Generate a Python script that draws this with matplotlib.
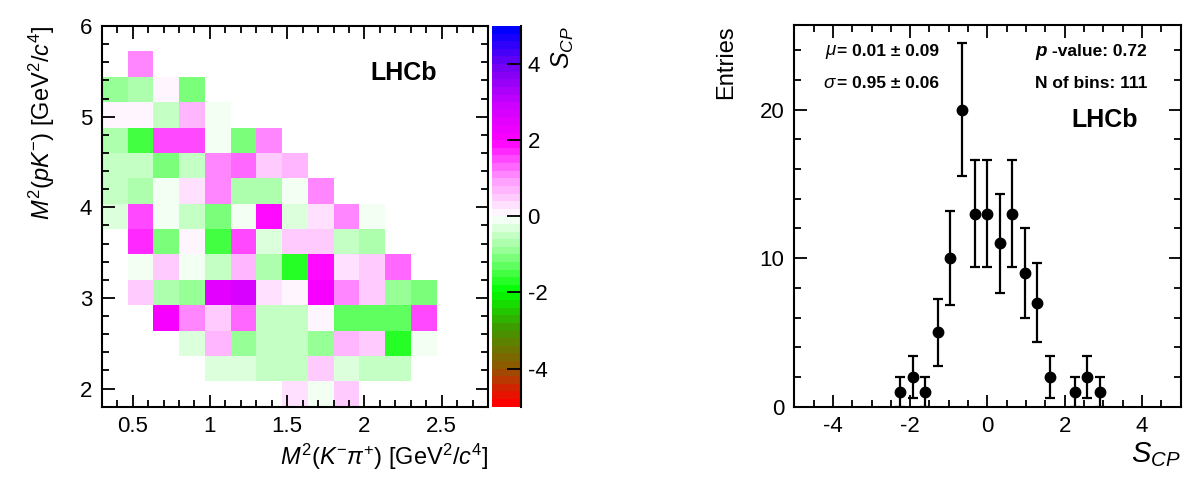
import numpy as np
import matplotlib
matplotlib.use("Agg")
import matplotlib.pyplot as plt
from matplotlib.colors import LinearSegmentedColormap
from matplotlib.ticker import MultipleLocator, FuncFormatter

plt.rcParams['font.family'] = ['Liberation Sans', 'DejaVu Sans']
plt.rcParams['mathtext.fontset'] = 'custom'
plt.rcParams['mathtext.rm'] = 'Liberation Sans'
plt.rcParams['mathtext.it'] = 'Liberation Sans:italic'
plt.rcParams['mathtext.bf'] = 'Liberation Sans:bold'
plt.rcParams['axes.unicode_minus'] = False

n = np.nan
# S_CP per Dalitz bin, rows listed from top (M^2(pK) high) to bottom
scp_rows_top_down = [
    [n, n, n, n, n, n, n, n, n, n, n, n, n, n, n],
    [n, 1.0, n, n, n, n, n, n, n, n, n, n, n, n, n],
    [-0.9, -0.7, 0.0, -1.1, n, n, n, n, n, n, n, n, n, n, n],
    [0.0, 0.0, -0.5, 0.8, -0.2, n, n, n, n, n, n, n, n, n, n],
    [-0.7, -1.6, 1.5, 1.6, -0.2, -1.1, 1.0, n, n, n, n, n, n, n, n],
    [-0.5, -0.5, -1.2, -0.6, 1.1, 1.2, 0.6, 0.8, n, n, n, n, n, n, n],
    [-0.5, -0.8, -0.2, 0.3, 1.1, -0.7, -0.7, -0.2, 1.0, n, n, n, n, n, n],
    [-0.4, 1.6, -0.2, -0.6, -1.1, -0.2, 1.9, -0.4, 0.3, 1.0, -0.2, n, n, n, n],
    [n, 1.7, -1.1, 0.0, -1.6, 1.6, -0.3, 0.6, 0.6, -0.5, -0.7, n, n, n, n],
    [n, -0.2, 0.5, -0.2, -0.6, 0.8, -0.8, -1.8, 1.8, 0.3, 0.5, 1.2, n, n, n],
    [n, 0.5, -0.7, -1.0, 2.4, 2.6, 0.3, 0.0, 2.1, 1.1, 0.6, -0.9, -1.1, n, n],
    [n, n, 2.1, 1.0, 0.5, 1.3, -0.6, -0.6, 0.0, -1.3, -1.3, -1.4, 1.4, n, n],
    [n, n, n, -0.3, 0.8, -0.9, -0.6, -0.6, -1.0, 0.8, 0.5, -1.8, -0.2, n, n],
    [n, n, n, n, -0.3, -0.3, -0.6, -0.5, 0.5, -0.3, -0.6, -0.5, n, n, n],
    [n, n, n, n, n, n, n, 0.3, -0.2, 0.5, n, n, n, n, n],
]
m2_kpi_edges = np.linspace(0.3, 2.8, 16)
m2_pk_edges = np.linspace(1.8, 6.0, 16)

# S_CP distribution histogram (31 bins in [-5, 5])
scp_bin_edges = np.linspace(-5, 5, 32)
scp_counts = [0, 0, 0, 0, 0, 0, 0, 0, 1, 2, 1, 5, 10, 20, 13, 13,
              11, 13, 9, 7, 2, 0, 1, 2, 1, 0, 0, 0, 0, 0, 0]

cmap = LinearSegmentedColormap.from_list("scp", [
    (0.0, (1.0, 0.0, 0.0)),
    (0.1, (0.55, 0.35, 0.0)),
    (0.2, (0.25, 0.6, 0.0)),
    (0.3, (0.0, 1.0, 0.0)),
    (0.4, (0.55, 1.0, 0.55)),
    (0.5, (1.0, 1.0, 1.0)),
    (0.6, (1.0, 0.6, 1.0)),
    (0.7, (1.0, 0.0, 1.0)),
    (0.8, (0.8, 0.0, 1.0)),
    (0.9, (0.45, 0.0, 0.95)),
    (1.0, (0.0, 0.0, 1.0)),
], N=50)

fig = plt.figure(figsize=(12, 4.84), dpi=100)

def style_axes(ax):
    for s in ax.spines.values():
        s.set_linewidth(1.5)
    ax.tick_params(which='both', direction='in', top=True, right=True,
                   width=1.3, labelsize=16, pad=7)
    ax.tick_params(which='major', length=9)
    ax.tick_params(which='minor', length=5)

fmt = FuncFormatter(lambda v, p: "%g" % v)

# ---- left: Dalitz map
ax1 = fig.add_axes([0.0848, 0.1597, 0.3219, 0.7866])
grid = np.array(scp_rows_top_down)[::-1]
mesh = ax1.pcolormesh(m2_kpi_edges, m2_pk_edges, np.ma.masked_invalid(grid),
                      cmap=cmap, vmin=-5, vmax=5)
ax1.set_xlim(0.3, 2.8)
ax1.set_ylim(1.8, 6.0)
ax1.xaxis.set_major_locator(MultipleLocator(0.5))
ax1.xaxis.set_minor_locator(MultipleLocator(0.1))
ax1.yaxis.set_major_locator(MultipleLocator(1))
ax1.yaxis.set_minor_locator(MultipleLocator(0.2))
ax1.xaxis.set_major_formatter(fmt)
ax1.yaxis.set_major_formatter(fmt)
style_axes(ax1)
ax1.set_xlabel(r"$M^2(K^{-}\pi^{+})$ [GeV$^2$/$c^4$]", fontsize=17, loc='right', labelpad=3)
ax1.set_ylabel(r"$M^2(pK^{-})$ [GeV$^2$/$c^4$]", fontsize=17, loc='top', labelpad=16)
ax1.text(0.867, 0.877, "LHCb", transform=ax1.transAxes, ha='right', va='center',
         fontsize=18, fontweight='bold')

cax = fig.add_axes([0.4097, 0.1597, 0.0242, 0.7866])
cb = fig.colorbar(mesh, cax=cax, ticks=[-4, -2, 0, 2, 4])
cb.outline.set_visible(False)
cax.plot([1, 1], [0, 1], transform=cax.transAxes, color='k', lw=1.5, clip_on=False)
cax.tick_params(direction='in', length=10, width=1.3, labelsize=16, pad=5)
cax.yaxis.set_major_formatter(fmt)
cb.set_label(r"$S_{CP}$", fontsize=18, loc='top', labelpad=2)

# ---- right: S_CP distribution
ax2 = fig.add_axes([0.6619, 0.1597, 0.3219, 0.7886])
centers = 0.5 * (scp_bin_edges[:-1] + scp_bin_edges[1:])
counts = np.array(scp_counts, dtype=float)
sel = counts > 0
ax2.errorbar(centers[sel], counts[sel], yerr=np.sqrt(counts[sel]), fmt='o',
             color='k', ms=7.5, elinewidth=1.6, capsize=3.5, capthick=1.6)
ax2.set_xlim(-5, 5)
ax2.set_ylim(0, 25.7)
ax2.xaxis.set_major_locator(MultipleLocator(2))
ax2.xaxis.set_minor_locator(MultipleLocator(0.5))
ax2.yaxis.set_major_locator(MultipleLocator(10))
ax2.yaxis.set_minor_locator(MultipleLocator(2))
ax2.xaxis.set_major_formatter(fmt)
style_axes(ax2)
ax2.set_xlabel(r"$S_{CP}$", fontsize=21, loc='right', labelpad=2)
ax2.set_ylabel("Entries", fontsize=17, loc='top', labelpad=16)

t_mu = ax2.text(0.1105, 0.930, "= 0.01 ± 0.09", transform=ax2.transAxes,
                ha='left', va='center', fontsize=12.5, fontweight='bold')
ax2.annotate(r"$\mu$", xy=(0, 0.5), xycoords=t_mu, ha='right', va='center', fontsize=13.5)
t_sig = ax2.text(0.1105, 0.847, "= 0.95 ± 0.06", transform=ax2.transAxes,
                 ha='left', va='center', fontsize=12.5, fontweight='bold')
ax2.annotate(r"$\sigma$", xy=(0, 0.5), xycoords=t_sig, ha='right', va='center', fontsize=13.5)
t_p = ax2.text(0.913, 0.930, "-value: 0.72", transform=ax2.transAxes,
               ha='right', va='center', fontsize=12.5, fontweight='bold')
ax2.annotate("p ", xy=(0, 0.5), xycoords=t_p, ha='right', va='center', fontsize=13.5,
             fontweight='bold', style='italic')
ax2.text(0.913, 0.847, "N of bins: 111", transform=ax2.transAxes,
         ha='right', va='center', fontsize=12.5, fontweight='bold')
ax2.text(0.889, 0.751, "LHCb", transform=ax2.transAxes, ha='right', va='center',
         fontsize=18, fontweight='bold')

fig.savefig("out.png", dpi=100)
